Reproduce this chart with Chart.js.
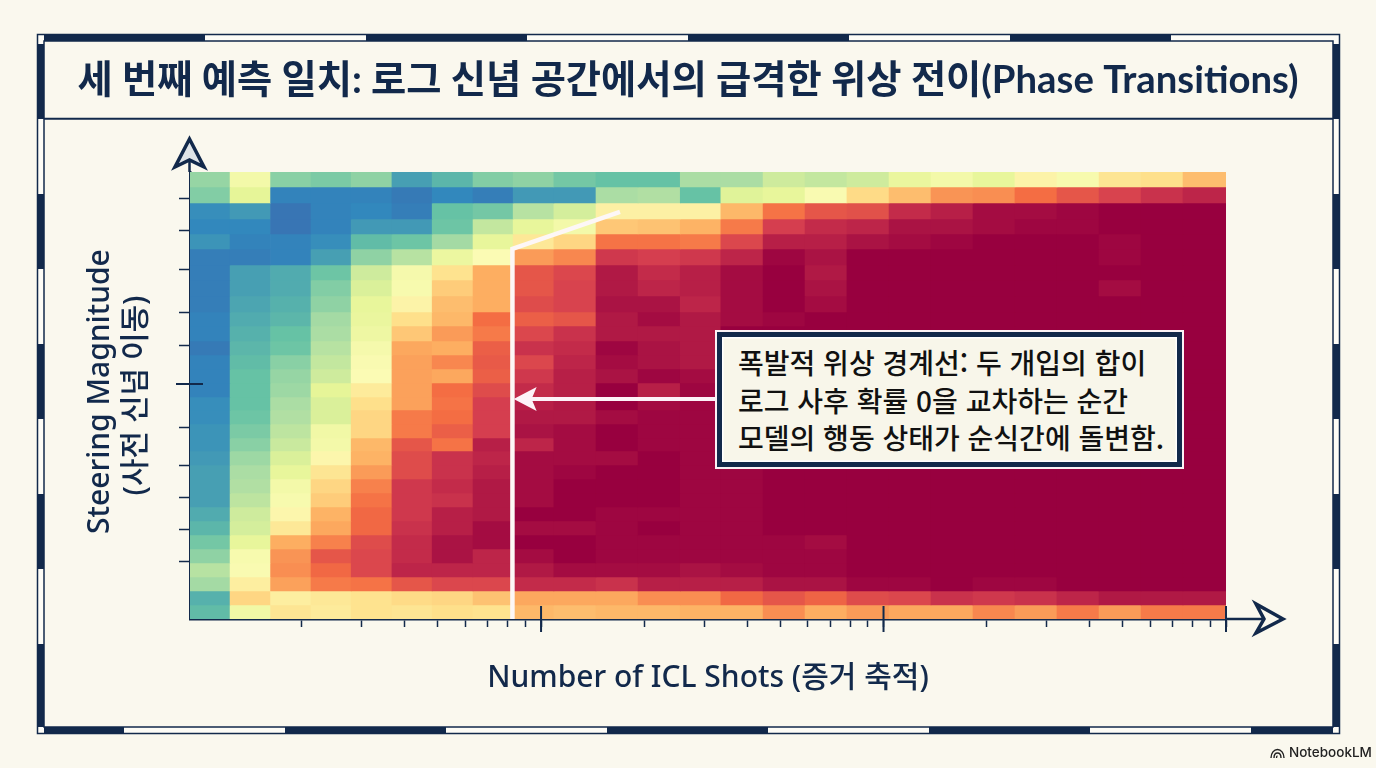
<!DOCTYPE html>
<html lang="ko">
<head>
<meta charset="utf-8">
<title>Phase Transitions</title>
<script src="https://cdn.jsdelivr.net/npm/chart.js@4/dist/chart.umd.min.js"></script>
<style>
  html, body { margin: 0; padding: 0; background: #faf8ee; }
  #wrap { position: relative; width: 1376px; height: 768px; overflow: hidden; }
  canvas { position: absolute; left: 0; top: 0; }
  #note {
    position: absolute; left: 716px; top: 331px; width: 467px; height: 137px; box-sizing: border-box;
    background: #f8f6ea; border: 6px solid #12294b; outline: 2px solid #fbf2f6; outline-offset: -1px;
    box-shadow: inset 0 0 0 1.5px #fff; padding: 7px 0 0 16px;
    font: 500 28px/37.5px "Noto Sans CJK KR", sans-serif; color: #111; white-space: nowrap;
  }
  #mark { position: absolute; left: 1270px; top: 744px; font: 500 13.5px/16px Inter, sans-serif; color: #222; }
  #mark svg { vertical-align: -2px; margin-right: 4px; }
</style>
</head>
<body>
<div id="wrap">
  <canvas id="heat" width="1376" height="768"></canvas>
  <div id="note">폭발적 위상 경계선: 두 개입의 합이<br>로그 사후 확률 0을 교차하는 순간<br>모델의 행동 상태가 순식간에 돌변함.</div>
  <div id="mark"><svg width="15" height="11" viewBox="0 0 15 11" fill="none" stroke="#222" stroke-width="1.4"><path d="M1 10C1 5 4 1.500 7.500 1.500S14 5 14 10"/><path d="M4 10C4 7 5.500 5 7.500 5S11 7 11 10"/><path d="M6.500 10C6.500 9 7 8 7.500 8"/></svg>NotebookLM</div>
</div>
<script>
var titleText = '세 번째 예측 일치: 로그 신념 공간에서의 급격한 위상 전이(Phase Transitions)';
var xTitle = 'Number of ICL Shots (증거 축적)';
var yTitle = ['\u00a0Steering Magnitude', '(사전 신념 이동)'];

// shot count bin edges, log axis
var shotEdges = [0.944,1.236,1.623,2.13,2.79,3.67,4.81,6.33,8.29,10.9,14.47,19.2,25.5,33.5,44.5,59,78.2,103.8,137.6,182.5,242,321,426,565,749,1000];
// steering magnitude bin edges, top row first
var magEdges = [447,432,416,400,385,370,354,339,323,307,293,278,264,250,236,222,209,195,181,168,154,140,126,112,98,84,70,56,42,28,14,0];

var xMinorTicks = [2,3,4,5,6,7,8,9,20,30,40,50,60,70,80,90,200,300,400,500,600,700,800,900];
var xMajorTicks = [10,100,1000];
var yMinorTicks = [420,388,349,306,273,191,153,121,89,57];
var yMajorTicks = [235];

// colour level 0-100, rows top to bottom, columns left to right
var cells = [
  [27,46,25,23,26,14,18,24,26,22,20,20,30,30,36,34,36,42,46,41,53,48,58,60,67],
  [24,40,9,9,9,7,10,8,13,13,30,31,20,39,41,49,61,67,74,75,80,85,89,92,94],
  [11,13,6,9,10,8,20,22,32,37,54,54,54,68,79,85,86,93,95,98,98,99,100,100,100],
  [10,10,6,9,13,13,21,34,41,46,65,66,69,78,90,93,94,97,97,98,99,99,100,100,100],
  [12,9,9,11,19,21,29,41,57,62,79,79,78,88,95,95,97,98,99,100,100,100,99,100,100],
  [8,8,9,14,26,32,43,50,73,76,91,90,91,94,99,97,100,100,100,100,100,100,99,100,100],
  [8,14,16,21,36,47,59,70,85,88,96,93,95,98,100,96,100,100,100,100,100,100,100,100,100],
  [8,14,16,24,38,48,64,70,85,89,96,94,95,98,100,97,100,100,100,100,100,100,98,100,100],
  [8,15,17,26,41,53,67,70,87,89,97,97,94,98,100,98,100,100,100,100,100,100,100,100,100],
  [9,16,18,29,42,60,68,80,83,85,96,98,96,98,99,100,100,100,100,100,100,100,100,100,100],
  [9,17,20,30,44,65,73,78,88,92,96,96,96,100,100,100,100,100,100,100,100,100,100,100,100],
  [7,18,21,32,47,71,70,83,92,93,99,97,96,100,100,100,100,100,100,100,100,100,100,100,100],
  [9,19,25,34,49,72,76,84,88,94,98,97,96,100,100,100,100,100,100,100,100,100,100,100,100],
  [9,20,27,36,50,72,71,83,91,95,97,99,98,100,100,100,100,100,100,100,100,100,100,100,100],
  [9,20,28,40,56,72,80,87,93,95,100,95,99,100,100,100,100,100,100,100,100,100,100,100,100],
  [11,20,30,38,60,72,79,90,95,96,100,98,99,100,100,100,100,100,100,100,100,100,100,100,100],
  [11,21,31,38,62,78,80,90,96,96,98,99,99,100,100,100,100,100,100,100,100,100,100,100,100],
  [12,23,33,45,62,78,83,90,97,98,100,99,99,100,100,100,100,100,100,100,100,100,100,100,100],
  [12,25,35,46,68,85,79,95,94,98,100,99,99,100,100,100,100,100,100,100,100,100,100,100,100],
  [13,28,38,52,69,87,92,94,98,98,98,100,99,99,100,100,100,100,100,100,100,100,100,100,100],
  [14,30,41,58,73,87,92,95,98,99,100,100,99,99,100,100,100,100,100,100,100,100,100,100,100],
  [14,31,46,62,77,91,93,96,98,100,100,100,99,99,100,100,100,100,100,100,100,100,100,100,100],
  [14,33,48,64,79,91,92,96,98,100,100,100,99,99,100,100,100,100,100,100,100,100,100,100,100],
  [16,36,52,69,81,91,95,96,100,100,99,99,99,99,100,100,100,100,100,100,100,100,100,100,100],
  [18,37,57,71,81,92,95,98,98,98,99,100,99,99,100,100,100,100,100,100,100,100,100,100,100],
  [22,41,70,77,87,93,97,98,100,100,99,99,99,99,99,98,100,100,100,100,100,100,100,100,100],
  [26,48,74,85,88,93,97,94,98,100,99,99,99,99,99,99,100,100,100,100,100,100,100,100,100],
  [32,49,75,81,88,94,94,94,96,98,98,98,97,98,99,99,100,100,100,100,100,100,100,100,100],
  [29,55,72,78,79,85,88,88,93,93,92,95,95,95,97,97,99,99,100,99,99,100,100,100,100],
  [17,62,55,57,59,61,62,66,71,71,71,75,75,81,85,82,87,88,92,91,92,94,96,96,96],
  [19,45,58,56,59,58,60,59,68,67,68,68,69,69,75,70,73,71,71,76,73,78,73,78,78]
];

// white phase boundary line
var boundaryShots = [8.25, 8.25, 17];
var boundaryMags = [0, 370, 407];
// callout arrow
var arrowShots = [9.2, 46];
var arrowMag = 220;

var navy = '#12294b';
var spectral = ['#4058a6','#3288bd','#66c2a5','#abdda4','#e6f598','#fbfbb4','#fee08b','#fdae61','#f46d43','#d53e4f','#98003f'];

function hex(c) {
  return [parseInt(c.substr(1,2),16), parseInt(c.substr(3,2),16), parseInt(c.substr(5,2),16)];
}
function levelColor(v) {
  var i = Math.min(Math.floor(v / 10), 9), t = v / 10 - i;
  var a = hex(spectral[i]), b = hex(spectral[i + 1]);
  return 'rgb(' + a.map(function(n, k) { return Math.round(n + (b[k] - n) * t); }).join(',') + ')';
}

var datasets = [{
  type: 'line',
  data: boundaryShots.map(function(s, i) { return {x: s, y: boundaryMags[i]}; }),
  borderColor: '#fdf7f6', borderWidth: 4.5, pointRadius: 0, tension: 0, order: 0
}, {
  type: 'line',
  data: arrowShots.map(function(s) { return {x: s, y: arrowMag}; }),
  borderColor: '#fdf2f8', borderWidth: 4, pointRadius: 0, tension: 0, order: 0
}];

cells.forEach(function(row, r) {
  datasets.push({
    type: 'bar',
    indexAxis: 'y',
    stack: 'heat',
    order: 1,
    barThickness: magEdges[r] - magEdges[r + 1],
    borderWidth: 0,
    backgroundColor: row.map(levelColor),
    data: row.map(function(v, c) {
      return {y: (magEdges[r] + magEdges[r + 1]) / 2, x: [shotEdges[c], shotEdges[c + 1]]};
    })
  });
});

function polyline(ctx, pts, close) {
  ctx.beginPath();
  pts.forEach(function(p, i) { i ? ctx.lineTo(p[0], p[1]) : ctx.moveTo(p[0], p[1]); });
  if (close) ctx.closePath();
}

var decor = {
  id: 'decor',
  beforeDraw: function(chart) {
    var ctx = chart.ctx, i;
    ctx.save();
    ctx.strokeStyle = navy;
    ctx.lineWidth = 1.5;
    // frame band with alternating bars
    ctx.fillStyle = '#fdfcf6';
    ctx.fillRect(37, 34, 1303, 7);
    ctx.fillRect(37, 727, 1303, 7);
    ctx.fillRect(37, 34, 7, 700);
    ctx.fillRect(1333, 34, 7, 700);
    ctx.fillStyle = navy;
    for (i = 0; i < 4; i++) {
      ctx.fillRect(44 + i * 322, 34, 161, 7);
    }
    ctx.fillRect(1251, 727, 82, 7);
    for (i = 0; i < 3; i++) {
      ctx.fillRect(929 - i * 322, 727, 161, 7);
    }
    ctx.fillRect(44, 727, 80, 7);
    [37, 1333].forEach(function(x) {
      for (i = 0; i < 5; i++) ctx.fillRect(x, 44 + i * 150, 7, 75);
      ctx.fillRect(x, 718, 7, 9);
    });
    ctx.strokeRect(37.5, 34.5, 1302, 699);
    ctx.strokeRect(44, 41, 1289, 686);
    ctx.lineWidth = 2;
    polyline(ctx, [[44, 118.7], [1333, 118.7]]);
    ctx.stroke();
    ctx.restore();
  },
  afterDraw: function(chart) {
    var ctx = chart.ctx, xs = chart.scales.x, ys = chart.scales.y;
    var x0 = xs.left, y0 = ys.bottom;
    ctx.save();
    ctx.strokeStyle = navy;
    ctx.lineWidth = 2;
    xMajorTicks.forEach(function(v) {
      var p = xs.getPixelForValue(v);
      polyline(ctx, [[p, y0 - 13], [p, y0 + 13]]);
      ctx.stroke();
    });
    yMajorTicks.forEach(function(v) {
      var p = ys.getPixelForValue(v);
      polyline(ctx, [[x0 - 14, p], [x0 + 13, p]]);
      ctx.stroke();
    });
    // axis extensions and open arrow heads
    ctx.lineWidth = 2.5;
    polyline(ctx, [[x0 - 0.5, ys.top], [x0 - 0.5, ys.top - 14]]);
    ctx.stroke();
    polyline(ctx, [[xs.right, y0], [xs.right + 40, y0]]);
    ctx.stroke();
    ctx.lineWidth = 3.5;
    ctx.lineJoin = 'miter';
    ctx.fillStyle = '#dfe4e8';
    polyline(ctx, [[x0 - 0.5, 139], [x0 + 14, 167], [x0 - 0.5, 160], [x0 - 15, 167]], true);
    ctx.fill();
    ctx.stroke();
    polyline(ctx, [[1283, y0], [1256, y0 - 15], [1264, y0], [1256, y0 + 14]], true);
    ctx.fillStyle = '#faf8ee';
    ctx.fill();
    ctx.stroke();
    // callout arrow head
    var tipX = xs.getPixelForValue(arrowShots[0]) - 15, tipY = ys.getPixelForValue(arrowMag);
    ctx.fillStyle = '#fdf2f8';
    polyline(ctx, [[tipX, tipY], [tipX + 23, tipY - 12], [tipX + 18, tipY], [tipX + 23, tipY + 12]], true);
    ctx.fill();
    ctx.restore();
  }
};

new Chart('heat', {
  data: {datasets: datasets},
  plugins: [decor],
  options: {
    responsive: false,
    animation: false,
    events: [],
    layout: {padding: {left: 0, right: 0, top: 0, bottom: 72}},
    plugins: {
      legend: {display: false},
      tooltip: {enabled: false},
      title: {
        display: true,
        text: titleText,
        color: navy,
        font: {family: 'Lato, "Noto Sans CJK KR"', size: 38.3, weight: 'bold', lineHeight: 1.2},
        padding: {top: 58, bottom: 68}
      }
    },
    scales: {
      x: {
        type: 'logarithmic',
        min: shotEdges[0],
        max: shotEdges[shotEdges.length - 1],
        stacked: false,
        z: 1,
        afterFit: function(s) { s.height = 77; },
        afterBuildTicks: function(s) {
          s.ticks = xMinorTicks.concat(xMajorTicks).map(function(v) { return {value: v}; });
        },
        ticks: {display: false, autoSkip: false},
        grid: {drawOnChartArea: false, tickLength: 8, tickColor: navy, tickWidth: 1.5},
        border: {color: navy, width: 2.5},
        title: {display: true, text: xTitle, color: navy, padding: 0, font: {family: '"Noto Sans", "Noto Sans CJK KR"', size: 30, weight: '500'}}
      },
      y: {
        type: 'linear',
        min: 0,
        max: 447,
        offset: false,
        z: 1,
        afterFit: function(s) { s.width = 190; },
        afterBuildTicks: function(s) {
          s.ticks = yMinorTicks.map(function(v) { return {value: v}; });
        },
        ticks: {display: false, autoSkip: false},
        grid: {drawOnChartArea: false, offset: false, tickLength: 11, tickColor: navy, tickWidth: 1.5},
        border: {color: navy, width: 2.5},
        title: {display: true, text: yTitle, color: navy, padding: {top: 82, bottom: 0}, font: {family: '"Noto Sans", "Noto Sans CJK KR"', size: 30, weight: '500'}}
      },
      // empty axis, keeps the right margin without narrowing the title
      yRight: {
        axis: 'y',
        position: 'right',
        afterFit: function(s) { s.width = 150; },
        ticks: {display: false},
        grid: {display: false},
        border: {display: false}
      }
    }
  }
});
</script>
</body>
</html>
